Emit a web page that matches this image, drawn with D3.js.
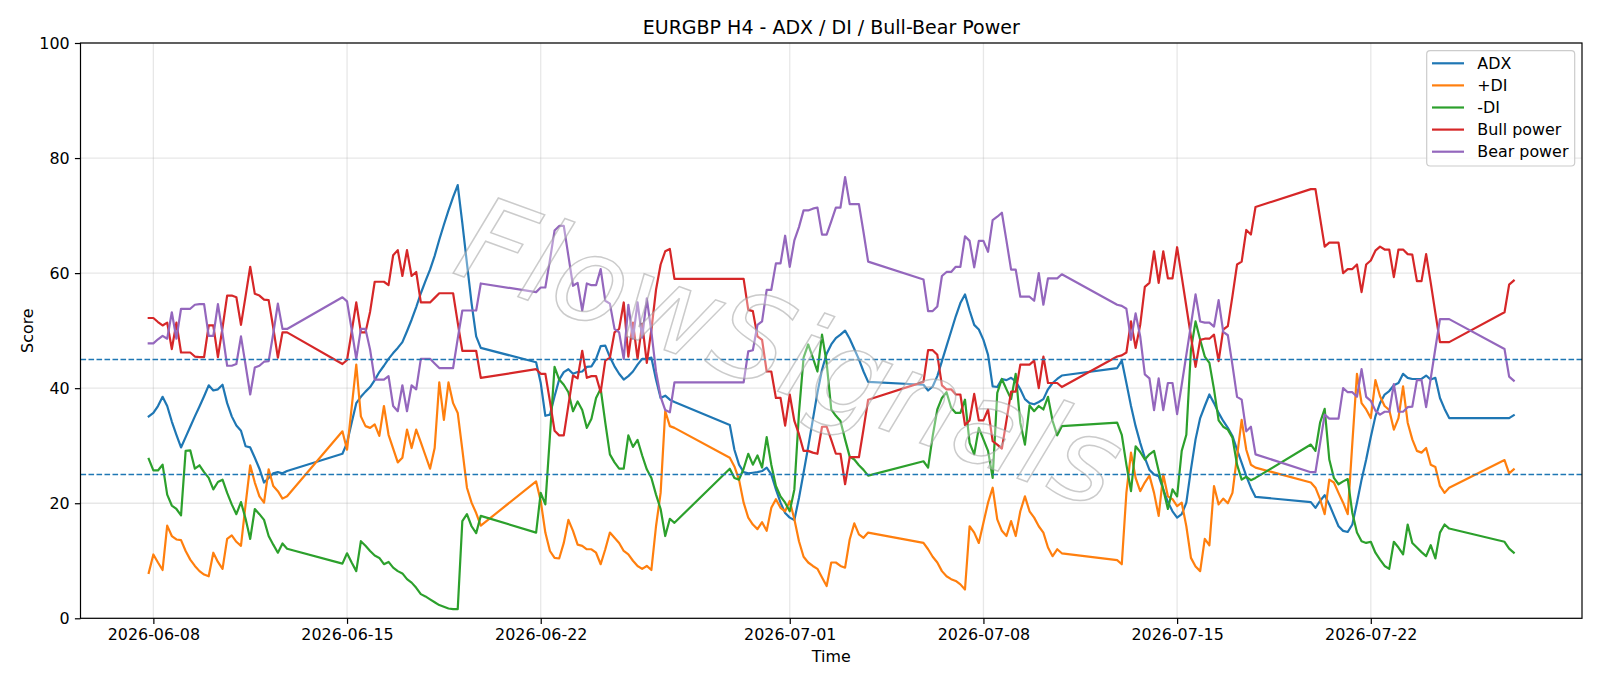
<!DOCTYPE html>
<html>
<head>
<meta charset="utf-8">
<script src="https://cdn.jsdelivr.net/npm/d3@7"></script>
<style>
  body { margin: 0; background: #fff; }
  svg { display: block; font-family: 'DejaVu Sans', sans-serif; }
</style>
</head>
<body>
<div id="chart"></div>
<script>
// H4 sessions: first bar (UTC) and how many 4h bars follow in that week
const sessions = [
  ["2026-06-07T20:00:00Z", 31],
  ["2026-06-14T20:00:00Z", 31],
  ["2026-06-21T20:00:00Z", 31],
  ["2026-06-28T20:00:00Z", 31],
  ["2026-07-05T20:00:00Z", 31],
  ["2026-07-12T20:00:00Z", 31],
  ["2026-07-19T20:00:00Z", 31],
  ["2026-07-26T20:00:00Z", 3]
];

const adx = [
  35.1, 35.7, 36.9, 38.5, 36.9, 34.2, 31.9, 29.7, 31.5, 33.3, 35.1, 36.8, 38.6, 40.5, 39.6, 39.8, 40.6, 37.4, 35.1, 33.5, 32.6, 29.9, 29.7, 27.9, 26.0, 23.6, 24.4, 25.2, 25.4, 25.2, 25.6,
  28.6, 30.5, 34.0, 37.4, 38.5, 39.4, 40.2, 41.4, 42.8, 43.9, 45.1, 46.1, 47.0, 48.0, 49.9, 51.9, 54.1, 56.5, 58.6, 60.6, 63.0, 65.8, 68.4, 70.9, 73.2, 75.3, 68.7, 61.7, 54.8, 49.0, 47.0,
  44.5, 40.9, 35.2, 35.4, 38.6, 41.5, 42.8, 43.3, 42.5, 42.8, 42.9, 43.7, 43.8, 45.1, 47.3, 47.4, 45.4, 43.8, 42.5, 41.5, 42.1, 42.9, 44.1, 45.1, 45.1, 45.3, 41.5, 38.3, 38.7, 38.0, 37.6,
  33.6, 29.3, 26.7, 25.4, 25.2, 25.3, 25.4, 25.6, 26.2, 25.0, 22.4, 20.1, 18.3, 17.5, 17.1, 20.9, 25.3, 29.8, 34.5, 39.2, 43.2, 46.0, 47.6, 48.7, 49.3, 50.0, 48.6, 46.8, 45.0, 42.9, 41.1,
  40.6, 39.6, 40.3, 42.1, 44.7, 47.3, 49.9, 52.5, 54.8, 56.3, 53.5, 51.0, 50.2, 48.4, 45.8, 40.3, 40.2, 41.6, 41.4, 41.8, 41.2, 39.8, 38.1, 37.4, 37.2, 37.6, 38.1, 39.8, 40.9, 41.6, 42.2,
  43.5, 44.8, 40.9, 36.9, 33.4, 30.5, 27.9, 25.8, 25.0, 24.7, 22.4, 20.2, 18.6, 17.5, 18.1, 20.1, 25.9, 31.1, 34.8, 36.9, 38.9, 37.4, 35.7, 34.3, 33.1, 31.7, 29.3, 27.0, 24.7, 22.7, 21.1,
  20.2, 19.2, 20.4, 21.4, 19.8, 17.9, 16.0, 15.2, 15.0, 16.3, 20.1, 24.1, 27.6, 31.5, 35.1, 37.4, 38.9, 39.5, 40.5, 40.9, 42.5, 41.8, 41.6, 41.6, 41.6, 42.2, 41.5, 41.8, 38.3, 36.4, 34.8,
  34.8, 34.8, 35.3
];

const plusDI = [
  7.9, 11.1, 9.7, 8.4, 16.1, 14.3, 13.7, 13.6, 11.7, 10.2, 9.1, 8.2, 7.6, 7.3, 11.4, 9.8, 8.6, 13.8, 14.4, 13.3, 12.6, 19.8, 26.6, 23.6, 21.2, 20.1, 25.9, 23.0, 22.1, 20.8, 21.2,
  32.5, 29.3, 36.6, 44.1, 35.1, 33.4, 33.1, 33.7, 31.7, 36.9, 31.9, 29.5, 27.1, 27.9, 32.8, 29.6, 32.8, 30.6, 28.3, 26.0, 29.6, 41.0, 34.5, 41.0, 37.4, 35.7, 29.3, 22.7, 20.1, 18.3, 16.1,
  23.8, 20.4, 14.9, 11.7, 10.5, 10.4, 13.1, 17.1, 15.2, 12.8, 12.6, 12.0, 12.0, 11.4, 9.4, 12.0, 14.9, 14.0, 13.1, 11.7, 11.1, 10.0, 9.1, 8.6, 9.1, 8.4, 16.0, 21.8, 36.0, 33.4, 33.1,
  27.9, 26.4, 24.1, 20.1, 17.5, 16.3, 15.5, 16.7, 15.2, 19.2, 20.7, 19.2, 18.6, 20.4, 17.2, 13.4, 10.7, 9.7, 9.1, 8.6, 7.1, 5.6, 9.7, 9.7, 9.1, 8.8, 13.7, 16.5, 14.6, 14.0, 14.9,
  13.1, 12.0, 10.7, 9.7, 8.2, 7.3, 6.8, 6.5, 5.9, 5.0, 16.0, 14.9, 13.1, 16.6, 20.1, 22.7, 17.2, 15.2, 14.3, 16.9, 14.3, 18.6, 21.2, 18.6, 17.5, 16.0, 14.9, 12.3, 10.8, 12.0, 11.3,
  10.1, 9.4, 21.8, 28.8, 24.4, 22.1, 23.6, 24.8, 21.8, 17.8, 25.0, 21.2, 20.7, 19.5, 20.1, 16.0, 10.5, 9.0, 8.2, 13.8, 12.7, 23.0, 19.8, 20.8, 20.0, 21.8, 28.2, 34.5, 29.3, 26.7, 26.2,
  23.6, 22.7, 20.7, 18.1, 24.1, 23.6, 21.8, 20.1, 18.1, 30.5, 42.5, 37.4, 36.3, 34.8, 41.4, 38.6, 36.9, 36.2, 32.8, 34.8, 40.3, 34.0, 31.1, 29.1, 28.8, 29.6, 26.7, 26.3, 23.0, 21.8, 22.7,
  27.5, 25.2, 25.9
];

const minusDI = [
  27.7, 25.7, 25.7, 26.7, 21.5, 19.6, 19.0, 17.9, 29.1, 29.2, 26.0, 26.6, 25.4, 24.4, 22.4, 23.7, 24.1, 21.8, 19.8, 18.1, 20.2, 17.3, 13.8, 19.0, 18.1, 17.1, 14.3, 12.8, 11.4, 13.0, 12.1,
  9.5, 11.3, 9.7, 8.2, 13.4, 12.6, 11.7, 10.9, 10.5, 9.4, 9.8, 8.8, 8.2, 7.8, 6.8, 6.2, 5.3, 4.2, 3.8, 3.3, 2.8, 2.3, 2.0, 1.7, 1.6, 1.6, 16.9, 18.1, 16.0, 14.8, 17.8,
  14.9, 21.8, 19.8, 31.7, 43.7, 41.5, 40.6, 39.3, 36.0, 37.7, 36.2, 33.1, 34.7, 38.3, 39.9, 34.0, 28.5, 27.1, 26.0, 26.0, 31.8, 29.8, 31.0, 28.3, 25.9, 24.4, 21.5, 19.0, 14.3, 17.3, 16.6,
  26.0, 24.4, 24.1, 26.0, 28.6, 26.7, 28.3, 26.2, 31.5, 26.7, 23.0, 21.2, 20.1, 18.6, 22.4, 35.7, 45.3, 47.6, 45.3, 42.9, 49.3, 44.4, 36.3, 35.2, 34.3, 31.1, 28.1, 27.6, 26.6, 25.8, 24.8,
  27.3, 26.2, 31.7, 36.3, 38.3, 39.3, 36.6, 35.7, 35.7, 38.0, 30.5, 28.5, 33.1, 31.1, 29.1, 24.4, 39.2, 41.6, 39.8, 38.1, 42.5, 34.0, 30.2, 37.0, 36.0, 36.9, 36.3, 38.5, 34.3, 31.8, 33.4,
  34.0, 31.9, 26.7, 22.1, 29.9, 28.9, 27.6, 28.5, 29.1, 25.6, 22.4, 19.0, 22.4, 21.2, 29.1, 31.9, 46.7, 51.6, 48.4, 45.5, 44.4, 39.8, 34.4, 33.3, 32.8, 31.4, 26.7, 24.1, 24.6, 24.0, 24.4,
  30.2, 29.1, 34.0, 36.4, 27.6, 24.4, 23.3, 23.8, 24.2, 18.3, 14.9, 13.4, 13.1, 13.3, 11.4, 10.2, 9.1, 8.6, 13.3, 12.3, 11.1, 16.3, 13.1, 12.3, 11.5, 10.8, 12.7, 10.4, 14.9, 16.3, 15.6,
  13.3, 12.1, 11.4
];

const bullPower = [
  52.2, 52.2, 51.5, 50.9, 51.4, 46.8, 51.4, 46.2, 46.2, 46.2, 45.5, 45.4, 45.4, 50.9, 50.9, 45.4, 50.5, 56.1, 56.1, 55.8, 51.0, 56.0, 61.1, 56.4, 56.1, 55.4, 55.3, 50.5, 45.3, 49.7, 49.7,
  44.2, 44.9, 49.8, 54.9, 49.7, 49.7, 53.3, 58.5, 58.5, 58.5, 57.9, 63.1, 64.0, 59.5, 64.0, 59.5, 60.2, 54.9, 54.9, 54.9, 55.7, 56.5, 56.5, 56.5, 56.5, 51.4, 46.5, 46.5, 46.5, 46.5, 41.8,
  43.3, 42.5, 42.5, 37.7, 32.6, 31.8, 31.8, 37.0, 42.2, 41.7, 46.5, 41.8, 42.1, 42.1, 39.3, 44.8, 45.3, 49.7, 50.3, 54.9, 45.5, 51.4, 45.1, 51.2, 44.4, 50.2, 57.1, 61.5, 63.8, 64.2, 59.0,
  59.0, 59.0, 59.0, 59.0, 53.6, 53.4, 49.0, 48.4, 42.9, 42.9, 38.3, 38.3, 33.5, 38.9, 34.3, 32.0, 29.1, 29.1, 28.8, 28.6, 33.3, 33.3, 31.0, 28.6, 28.6, 23.3, 28.0, 28.0, 28.0, 32.9, 38.0,
  41.1, 46.6, 46.6, 45.8, 40.5, 39.8, 39.8, 38.9, 38.9, 33.6, 34.4, 39.0, 34.4, 34.4, 36.3, 30.8, 30.2, 29.5, 34.4, 39.4, 39.4, 44.1, 44.1, 44.1, 44.8, 40.0, 45.5, 40.9, 40.9, 40.9, 40.2,
  45.5, 45.7, 46.2, 51.6, 47.0, 51.0, 57.6, 58.3, 63.8, 58.3, 63.8, 59.1, 59.1, 64.5, 59.4, 54.2, 49.0, 43.7, 48.4, 48.6, 48.6, 49.3, 44.7, 50.2, 50.8, 56.0, 61.5, 62.0, 67.5, 66.7, 71.5,
  74.6, 74.6, 69.6, 64.6, 65.3, 65.3, 65.3, 60.0, 60.7, 60.7, 61.5, 56.7, 61.5, 62.2, 63.9, 64.6, 64.1, 64.1, 59.3, 64.1, 64.1, 63.3, 63.2, 58.6, 58.6, 63.3, 58.3, 53.1, 48.0, 48.0, 48.0,
  53.2, 58.0, 58.7
];

const bearPower = [
  47.8, 47.8, 48.5, 49.1, 48.6, 53.2, 48.6, 53.8, 53.8, 53.8, 54.5, 54.6, 54.6, 49.1, 49.1, 54.6, 49.5, 43.9, 43.9, 44.2, 49.0, 44.0, 38.9, 43.6, 43.9, 44.6, 44.7, 49.5, 54.7, 50.3, 50.3,
  55.8, 55.1, 50.2, 45.1, 50.3, 50.3, 46.7, 41.5, 41.5, 41.5, 42.1, 36.9, 36.0, 40.5, 36.0, 40.5, 39.8, 45.1, 45.1, 45.1, 44.3, 43.5, 43.5, 43.5, 43.5, 48.6, 53.5, 53.5, 53.5, 53.5, 58.2,
  56.7, 57.5, 57.5, 62.3, 67.4, 68.2, 68.2, 63.0, 57.8, 58.3, 53.5, 58.2, 57.9, 57.9, 60.7, 55.2, 54.7, 50.3, 49.7, 45.1, 54.5, 48.6, 54.9, 48.8, 55.6, 49.8, 42.9, 38.5, 36.2, 35.8, 41.0,
  41.0, 41.0, 41.0, 41.0, 46.4, 46.6, 51.0, 51.6, 57.1, 57.1, 61.7, 61.7, 66.5, 61.1, 65.7, 68.0, 70.9, 70.9, 71.2, 71.4, 66.7, 66.7, 69.0, 71.4, 71.4, 76.7, 72.0, 72.0, 72.0, 67.1, 62.0,
  58.9, 53.4, 53.4, 54.2, 59.5, 60.2, 60.2, 61.1, 61.1, 66.4, 65.6, 61.0, 65.6, 65.6, 63.7, 69.2, 69.8, 70.5, 65.6, 60.6, 60.6, 55.9, 55.9, 55.9, 55.2, 60.0, 54.5, 59.1, 59.1, 59.1, 59.8,
  54.5, 54.3, 53.8, 48.4, 53.0, 49.0, 42.4, 41.7, 36.2, 41.7, 36.2, 40.9, 40.9, 35.5, 40.6, 45.8, 51.0, 56.3, 51.6, 51.4, 51.4, 50.7, 55.3, 49.8, 49.2, 44.0, 38.5, 38.0, 32.5, 33.3, 28.5,
  25.4, 25.4, 30.4, 35.4, 34.7, 34.7, 34.7, 40.0, 39.3, 39.3, 38.5, 43.3, 38.5, 37.8, 36.1, 35.4, 35.9, 35.9, 40.7, 35.9, 35.9, 36.7, 36.8, 41.4, 41.4, 36.7, 41.7, 46.9, 52.0, 52.0, 52.0,
  46.8, 42.0, 41.3
];

const seriesNames = ["ADX", "+DI", "-DI", "Bull power", "Bear power"];
const seriesColors = ["#1f77b4", "#ff7f0e", "#2ca02c", "#d62728", "#9467bd"];
const refLevels = [25, 45];
const yTicks = [0, 20, 40, 60, 80, 100];
const xTicks = ["2026-06-08", "2026-06-15", "2026-06-22", "2026-07-01", "2026-07-08", "2026-07-15", "2026-07-22"];

// build bar timestamps from the sessions
const times = [];
sessions.forEach(([start, n]) => {
  const t0 = new Date(start).getTime();
  for (let i = 0; i < n; i++) times.push(new Date(t0 + i * 4 * 3600e3));
});

const seriesData = [adx, plusDI, minusDI, bullPower, bearPower].map((vals, k) => ({
  name: seriesNames[k],
  color: seriesColors[k],
  points: vals.map((v, i) => ({ t: times[i], v: v }))
}));

const width = 1600, height = 686;
const margin = {top: 43, right: 18, bottom: 67.7, left: 80.5};
const plotW = width - margin.left - margin.right;
const plotH = height - margin.top - margin.bottom;

const svg = d3.select("#chart").append("svg")
  .attr("width", width)
  .attr("height", height);

// matplotlib-like 5% margins on the time axis
const tMin = times[0].getTime(), tMax = times[times.length - 1].getTime();
const pad = (tMax - tMin) * 0.05;
const x = d3.scaleUtc()
  .domain([new Date(tMin - pad), new Date(tMax + pad)])
  .range([margin.left, margin.left + plotW]);
const y = d3.scaleLinear()
  .domain([0, 100])
  .range([margin.top + plotH, margin.top]);

const xTickDates = xTicks.map(s => new Date(s + "T00:00:00Z"));

// grid
const grid = svg.append("g").attr("id", "grid");
grid.selectAll(".gx").data(xTickDates).enter().append("line")
  .attr("x1", d => x(d)).attr("x2", d => x(d))
  .attr("y1", margin.top).attr("y2", margin.top + plotH)
  .attr("stroke", "#b0b0b0").attr("stroke-opacity", 0.3).attr("stroke-width", 1.27);
grid.selectAll(".gy").data(yTicks).enter().append("line")
  .attr("x1", margin.left).attr("x2", margin.left + plotW)
  .attr("y1", d => y(d)).attr("y2", d => y(d))
  .attr("stroke", "#b0b0b0").attr("stroke-opacity", 0.3).attr("stroke-width", 1.27);

// clip to the axes box
svg.append("clipPath").attr("id", "plotclip").append("rect")
  .attr("x", margin.left).attr("y", margin.top).attr("width", plotW).attr("height", plotH);

const line = d3.line().x(d => x(d.t)).y(d => y(d.v));
const plot = svg.append("g").attr("clip-path", "url(#plotclip)");
plot.selectAll("path.series").data(seriesData).enter().append("path")
  .attr("class", "series")
  .attr("d", d => line(d.points))
  .attr("fill", "none")
  .attr("stroke", d => d.color)
  .attr("stroke-width", 2.2)
  .attr("stroke-linejoin", "round")
  .attr("stroke-linecap", "square");

// dashed reference levels
plot.selectAll("line.ref").data(refLevels).enter().append("line")
  .attr("class", "ref")
  .attr("x1", margin.left).attr("x2", margin.left + plotW)
  .attr("y1", d => y(d)).attr("y2", d => y(d))
  .attr("stroke", "#1f77b4").attr("stroke-width", 1.5)
  .attr("stroke-dasharray", "5.6,2.4");

// watermark
svg.append("text")
  .text("FlowSignals")
  .attr("transform", "translate(790,352) rotate(20)")
  .attr("text-anchor", "middle")
  .attr("dominant-baseline", "central")
  .style("font-size", "118px")
  .style("font-style", "italic")
  .style("font-family", "'DejaVu Sans', sans-serif")
  .attr("fill", "#ffffff").attr("fill-opacity", 0.35)
  .attr("stroke", "#a0a0a0").attr("stroke-opacity", 0.55).attr("stroke-width", 1.5);

// axes
const xAxis = d3.axisBottom(x).tickValues(xTickDates)
  .tickFormat(d3.utcFormat("%Y-%m-%d")).tickSize(5.6).tickPadding(5.2);
const yAxis = d3.axisLeft(y).tickValues(yTicks).tickSize(5.6).tickPadding(5.2);

const gx = svg.append("g").attr("transform", "translate(0," + (margin.top + plotH) + ")").call(xAxis);
const gy = svg.append("g").attr("transform", "translate(" + margin.left + ",0)").call(yAxis);
[gx, gy].forEach(g => {
  g.select(".domain").remove();
  g.selectAll(".tick line").attr("stroke", "#000").attr("stroke-width", 1.2);
  g.selectAll(".tick text").attr("fill", "#000")
    .style("font-size", "15.9px").style("font-family", "'DejaVu Sans', sans-serif");
});

// frame
svg.append("rect")
  .attr("x", margin.left).attr("y", margin.top).attr("width", plotW).attr("height", plotH)
  .attr("fill", "none").attr("stroke", "#000").attr("stroke-width", 1.2);

// title and labels
svg.append("text").text("EURGBP H4 - ADX / DI / Bull-Bear Power")
  .attr("x", margin.left + plotW / 2).attr("y", 33.5)
  .attr("text-anchor", "middle").style("font-size", "19px");
svg.append("text").text("Time")
  .attr("x", margin.left + plotW / 2).attr("y", 662)
  .attr("text-anchor", "middle").style("font-size", "15.9px");
svg.append("text").text("Score")
  .attr("transform", "translate(32.5," + (margin.top + plotH / 2) + ") rotate(-90)")
  .attr("text-anchor", "middle").style("font-size", "15.9px");

// legend
const legend = svg.append("g").attr("id", "legend");
legend.append("rect")
  .attr("x", 1426.7).attr("y", 50.7).attr("width", 148).attr("height", 115.3)
  .attr("rx", 3.5)
  .attr("fill", "#fff").attr("fill-opacity", 0.8)
  .attr("stroke", "#cccccc").attr("stroke-width", 1.2);
const items = legend.selectAll("g.item").data(seriesData).enter().append("g")
  .attr("class", "item")
  .attr("transform", (d, i) => "translate(0," + (63.3 + i * 22.1) + ")");
items.append("line")
  .attr("x1", 1432).attr("x2", 1464)
  .attr("stroke", d => d.color).attr("stroke-width", 2.2);
items.append("text").text(d => d.name)
  .attr("x", 1477.3).attr("dy", "0.36em")
  .style("font-size", "15.9px");
</script>
</body>
</html>
